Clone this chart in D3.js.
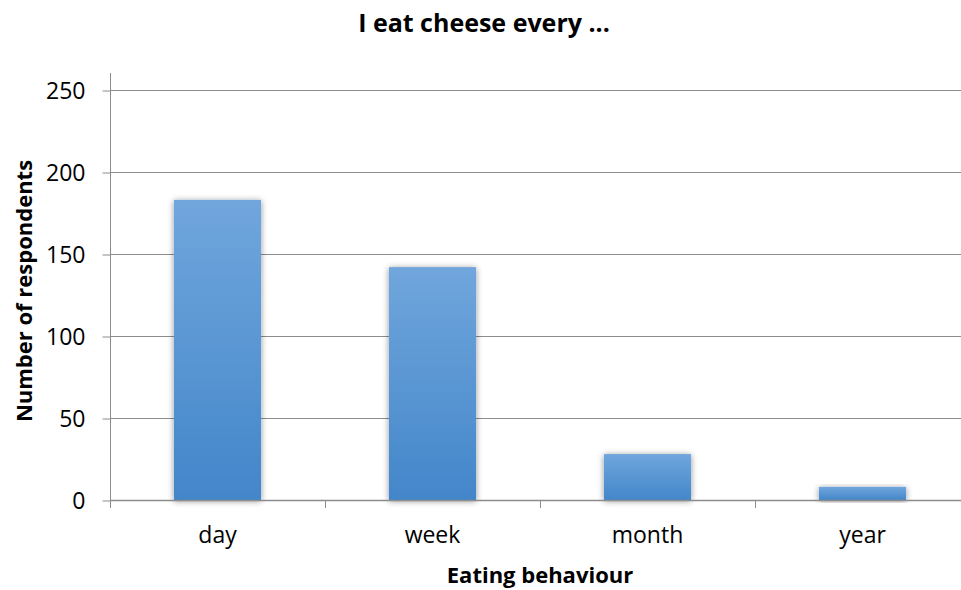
<!DOCTYPE html>
<html><head><meta charset="utf-8">
<script src="https://cdn.jsdelivr.net/npm/d3@7"></script>
<style>body{margin:0;background:#fff}svg{display:block}text{font-family:"Open Sans",sans-serif;fill:#000}</style>
</head><body><svg id="c" width="961" height="590"></svg>
<script>
const categories = ["day","week","month","year"];
const values = [183,142,28,8];
const yTicks = [0,50,100,150,200,250];
const title = "I eat cheese every ...";
const xTitle = "Eating behaviour";
const yTitle = "Number of respondents";

const svg = d3.select("#c");
const mLeft = 110, mRight = 970, mTop = 90, mBottom = 500;
const x = d3.scaleBand().domain(categories).range([mLeft, mRight]).paddingInner(0.595).paddingOuter(0.2975);
const y = d3.scaleLinear().domain([0,250]).range([mBottom, mTop]);

const defs = svg.append("defs");
const g = defs.append("linearGradient").attr("id","bg").attr("x1",0).attr("y1",0).attr("x2",0).attr("y2",1);
g.append("stop").attr("offset","0%").attr("stop-color","#70a6dc");
g.append("stop").attr("offset","100%").attr("stop-color","#4386ca");
const f = defs.append("filter").attr("id","sh").attr("x","-20%").attr("y","-20%").attr("width","140%").attr("height","140%");
f.append("feDropShadow").attr("dx",0).attr("dy",1).attr("stdDeviation",3).attr("flood-color","#000").attr("flood-opacity",0.45);

// gridlines
svg.append("g").selectAll("line").data(yTicks.filter(d=>d>0)).join("line")
  .attr("x1",mLeft).attr("x2",mRight).attr("y1",d=>y(d)+0.5).attr("y2",d=>y(d)+0.5)
  .attr("stroke","#8c8c8c").attr("stroke-width",1);

// y axis
const ya = svg.append("g").attr("transform",`translate(${mLeft+0.5},0)`)
  .call(d3.axisLeft(y).tickValues(yTicks).tickSize(8).tickPadding(17).tickFormat(d3.format("d")));
ya.select(".domain").remove();
ya.selectAll(".tick line").attr("stroke","#8c8c8c").attr("transform","translate(0,0.5)");
ya.selectAll("text").attr("font-size",23).attr("font-family","'Open Sans',sans-serif").attr("fill","#000").attr("dy","0.36em");
svg.append("line").attr("x1",mLeft+0.5).attr("x2",mLeft+0.5).attr("y1",73).attr("y2",mBottom+8).attr("stroke","#8c8c8c");

// bars
svg.append("g").selectAll("rect").data(categories).join("rect")
  .attr("x",d=>x(d)).attr("width",x.bandwidth())
  .attr("y",(d,i)=>y(values[i])).attr("height",(d,i)=>mBottom-y(values[i]))
  .attr("fill","url(#bg)").attr("filter","url(#sh)");

// x axis
svg.append("line").attr("x1",mLeft).attr("x2",mRight).attr("y1",mBottom+0.5).attr("y2",mBottom+0.5).attr("stroke","#8c8c8c").attr("stroke-width",1.5);
const step = x.step();
const bounds = d3.range(categories.length+1).map(i=>mLeft+i*step);
svg.append("g").selectAll("line").data(bounds).join("line")
  .attr("x1",d=>Math.round(d)+0.5).attr("x2",d=>Math.round(d)+0.5).attr("y1",mBottom).attr("y2",mBottom+8).attr("stroke","#8c8c8c");
svg.append("g").selectAll("text").data(categories).join("text")
  .attr("x",d=>x(d)+x.bandwidth()/2).attr("y",543).attr("text-anchor","middle").attr("font-size",23).text(d=>d);

// titles
svg.append("text").attr("x",484).attr("y",32).attr("text-anchor","middle").attr("font-size",25).attr("font-weight","bold").text(title);
svg.append("text").attr("x",(mLeft+mRight)/2).attr("y",583).attr("text-anchor","middle").attr("font-size",22).attr("font-weight","bold").text(xTitle);
svg.append("text").attr("transform","translate(32,291) rotate(-90)").attr("text-anchor","middle").attr("font-size",22).attr("font-weight","bold").text(yTitle);
</script></body></html>
